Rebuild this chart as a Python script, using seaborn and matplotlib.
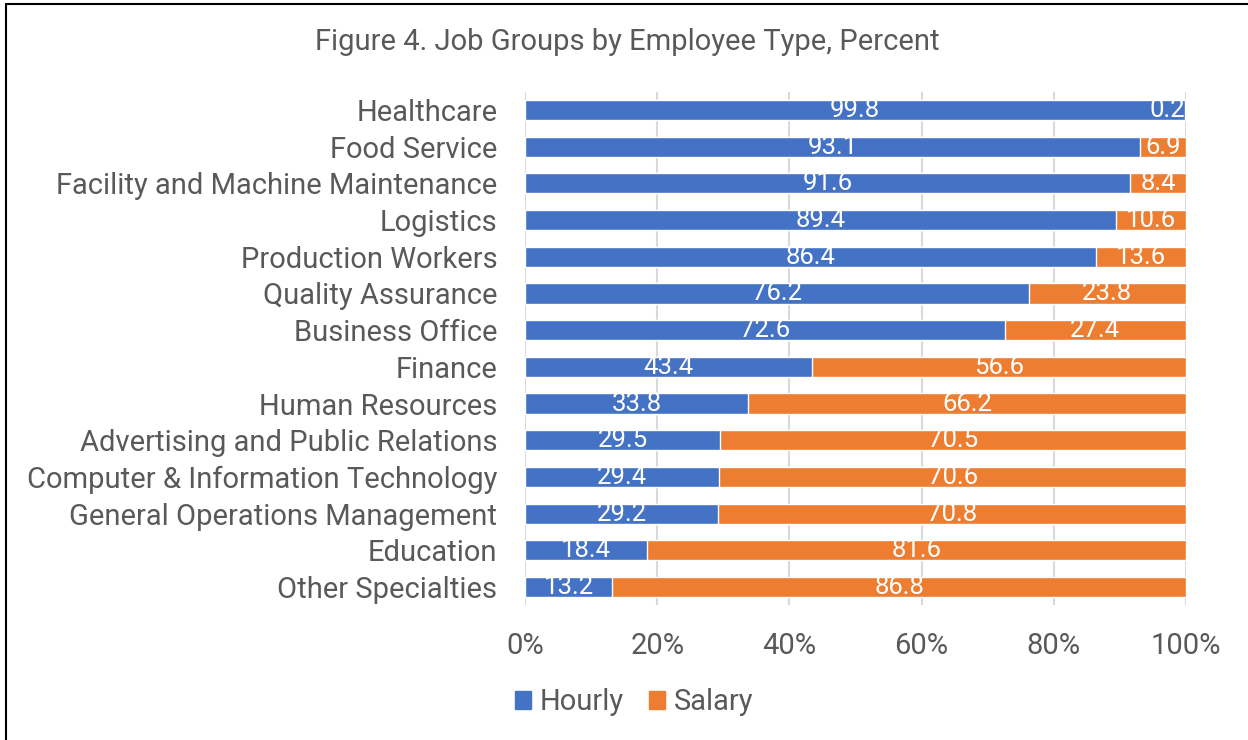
import matplotlib
matplotlib.use("Agg")
import matplotlib.pyplot as plt
from matplotlib.lines import Line2D
from matplotlib.patches import Patch
import seaborn as sns
import pandas as pd

# --- data ---
job_groups = [
    "Healthcare", "Food Service", "Facility and Machine Maintenance", "Logistics",
    "Production Workers", "Quality Assurance", "Business Office", "Finance",
    "Human Resources", "Advertising and Public Relations",
    "Computer & Information Technology", "General Operations Management",
    "Education", "Other Specialties",
]
hourly = [99.8, 93.1, 91.6, 89.4, 86.4, 76.2, 72.6, 43.4, 33.8, 29.5, 29.4, 29.2, 18.4, 13.2]
salary = [0.2, 6.9, 8.4, 10.6, 13.6, 23.8, 27.4, 56.6, 66.2, 70.5, 70.6, 70.8, 81.6, 86.8]

blue = "#4472C4"
orange = "#ED7D31"
gray = "#595959"

df = pd.DataFrame({"group": job_groups, "hourly": hourly, "salary": salary})
df["total"] = df["hourly"] + df["salary"]

sns.set_style("white")
plt.rcParams["font.family"] = ["Roboto", "DejaVu Sans"]

fig = plt.figure(figsize=(12.48, 7.40), dpi=100)
ax = fig.add_axes([0.4207, 0.1819, 0.5296, 0.6943])

# stacked: salary drawn as full length underneath, hourly on top
sns.barplot(data=df, x="total", y="group", color=orange, width=0.55,
            saturation=1, ax=ax, zorder=2)
sns.barplot(data=df, x="hourly", y="group", color=blue, width=0.55,
            saturation=1, ax=ax, zorder=3)

for i, (h, s) in enumerate(zip(hourly, salary)):
    ax.text(h / 2, i, f"{h:.1f}", ha="center", va="center", color="white",
            fontsize=18.5, zorder=4)
    if s < 3:
        # too thin for its label: right-align at the bar end
        ax.text(h + s - 0.1, i, f"{s:.1f}", ha="right", va="center", color="white",
                fontsize=18.5, zorder=4)
    else:
        ax.text(h + s / 2, i, f"{s:.1f}", ha="center", va="center", color="white",
                fontsize=18.5, zorder=4)

ax.set_xlim(0, 100)
ax.set_ylim(len(job_groups) - 0.5, -0.5)
ax.set_xticks([0, 20, 40, 60, 80, 100])
ax.set_xticklabels(["0%", "20%", "40%", "60%", "80%", "100%"])
ax.xaxis.grid(True, color="#D9D9D9", linewidth=1.5, zorder=0)
ax.set_axisbelow(True)
for sp in ax.spines.values():
    sp.set_visible(False)
ax.tick_params(axis="both", length=0, labelsize=21, labelcolor=gray)
ax.tick_params(axis="y", pad=20)
ax.tick_params(axis="x", pad=19)
ax.set_xlabel("")
ax.set_ylabel("")

fig.text(0.503, 0.943, "Figure 4. Job Groups by Employee Type, Percent",
         ha="center", va="center", fontsize=21, color=gray)

handles = [Patch(color=blue, label="Hourly"), Patch(color=orange, label="Salary")]
fig.legend(handles=handles, loc="center", bbox_to_anchor=(0.508, 0.051), ncol=2,
           frameon=False, fontsize=21, labelcolor=gray, handlelength=0.55,
           handleheight=0.55, handletextpad=0.3, columnspacing=0.85)

# outer frame (top and left edges visible)
fig.add_artist(Line2D([0.0048, 1.0], [0.9946, 0.9946], color="black", linewidth=1.5,
                      transform=fig.transFigure))
fig.add_artist(Line2D([0.0052, 0.0052], [0.0, 0.9946], color="black", linewidth=1.5,
                      transform=fig.transFigure))

fig.savefig("out.png", dpi=100)
